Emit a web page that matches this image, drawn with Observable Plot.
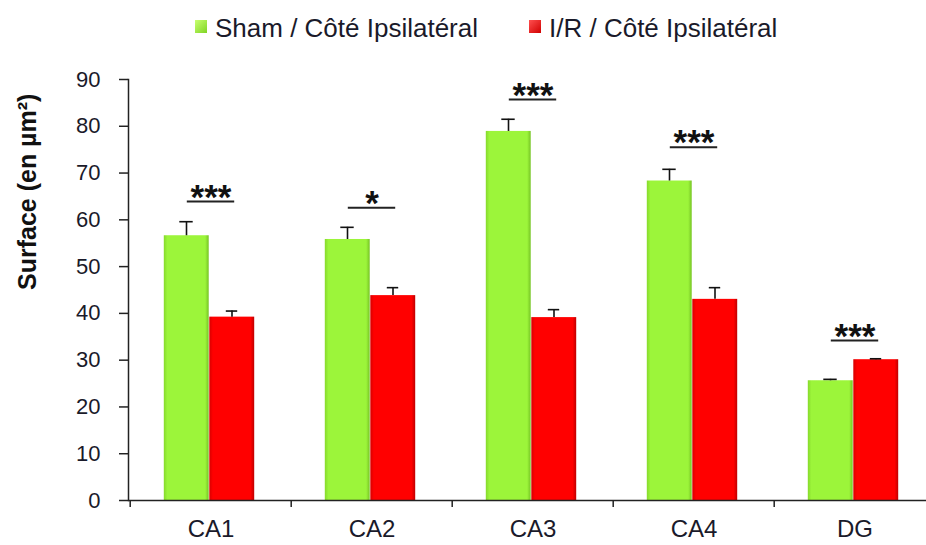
<!DOCTYPE html>
<html>
<head>
<meta charset="utf-8">
<script src="https://cdn.jsdelivr.net/npm/d3@7"></script>
<script src="https://cdn.jsdelivr.net/npm/@observablehq/plot@0.6"></script>
<style>
  body { margin: 0; background: #fff; font-family: Arial, "Liberation Sans", sans-serif; }
  #wrap { position: relative; width: 926px; height: 545px; overflow: hidden; }
  #legend { position: absolute; left: 0; top: 0; width: 926px; height: 60px; }
  .item { position: absolute; top: 15px; font-size: 26px; line-height: 26px; color: #1a1a2a; white-space: nowrap; }
  .sw { position: absolute; top: 5px; width: 12px; height: 13px; }
  #chart { position: absolute; left: 0; top: 60px; }
</style>
</head>
<body>
<div id="wrap">
  <div id="legend"></div>
  <div id="chart"></div>
</div>
<script>
const categories = ["CA1", "CA2", "CA3", "CA4", "DG"];
const seriesNames = ["Sham / Côté Ipsilatéral", "I/R / Côté Ipsilatéral"];
const shamValues = [56.6, 55.8, 78.9, 68.3, 25.6];
const shamErrors = [3.0, 2.6, 2.6, 2.5, 0.3];
const irValues = [39.2, 43.8, 39.1, 43.0, 30.1];
const irErrors = [1.3, 1.7, 1.7, 2.5, 0.2];
const sigLevels = [63.9, 62.6, 85.7, 75.5, 34.2];
const sigLabels = ["***", "*", "***", "***", "***"];
const yTicks = [0, 10, 20, 30, 40, 50, 60, 70, 80, 90];

const sham = categories.map((c, i) => ({cat: c, value: shamValues[i], top: shamValues[i] + shamErrors[i]}));
const ir = categories.map((c, i) => ({cat: c, value: irValues[i], top: irValues[i] + irErrors[i]}));
const sig = categories.map((c, i) => ({cat: c, y: sigLevels[i], label: sigLabels[i]}));

// legend (HTML, above the SVG)
const legend = document.getElementById("legend");
[[195, "#c8ff70", "#7fd424"], [529, "#ff5050", "#d00000"]].forEach(([left, c1, c2], i) => {
  const d = document.createElement("div");
  d.className = "item";
  d.style.left = left + "px";
  d.innerHTML = `<span class="sw" style="left:0;background:linear-gradient(135deg, ${c1}, ${c2})"></span><span style="margin-left:20px">${seriesNames[i]}</span>`;
  legend.appendChild(d);
});

const half = 80.8; // half band width in px
const plot = Plot.plot({
  width: 926,
  height: 485,
  marginLeft: 128,
  marginRight: 0,
  marginTop: 19,
  marginBottom: 45,
  style: {fontFamily: "Arial, 'Liberation Sans', sans-serif", background: "white", color: "#1a1a2a", overflow: "visible"},
  x: {domain: categories, range: [128, 936], padding: 0, axis: null},
  y: {domain: [0, 90], axis: null},
  marks: [
    Plot.barY(sham, {x: "cat", y: "value", fill: "url(#gGreen)", insetLeft: half - 47, insetRight: half + 1.5}),
    Plot.barY(ir, {x: "cat", y: "value", fill: "url(#gRed)", insetLeft: half - 1.5, insetRight: half - 44}),
    Plot.ruleX(sham, {x: "cat", y1: "value", y2: "top", dx: -24.5, stroke: "#111", strokeWidth: 1.6}),
    Plot.ruleX(ir, {x: "cat", y1: "value", y2: "top", dx: 21, stroke: "#111", strokeWidth: 1.6}),
    Plot.tickY(sham, {x: "cat", y: "top", stroke: "#111", strokeWidth: 1.6, insetLeft: half - 24.5 - 7, insetRight: half + 24.5 - 7}),
    Plot.tickY(ir, {x: "cat", y: "top", stroke: "#111", strokeWidth: 1.6, insetLeft: half + 21 - 6, insetRight: half - 21 - 6}),
    Plot.tickY(sig, {x: "cat", y: "y", stroke: "#222", strokeWidth: 2, insetLeft: half - 24, insetRight: half - 24}),
    Plot.text(sig, {x: "cat", y: "y", text: "label", dy: 7, lineAnchor: "bottom", fontSize: 35, fontWeight: "bold", fill: "#111"}),
    Plot.ruleY([0], {stroke: "#222", strokeWidth: 1.5}),
    Plot.frame({anchor: "left", stroke: "#222", strokeWidth: 1.5}),
    Plot.axisY({ticks: yTicks, tickSize: 9, tickPadding: 19, fontSize: 22, label: null, stroke: "#222", strokeWidth: 1.5}),
    Plot.axisX({tickSize: 0, tickPadding: 19, fontSize: 24, label: null}),
    Plot.axisX({tickSize: 7, tickFormat: () => "", dx: -half, label: null, stroke: "#222", strokeWidth: 1.5}),
    Plot.text(["Surface (en µm²)"], {frameAnchor: "left", rotate: -90, dx: -101, dy: 0, fontSize: 25, fontWeight: "bold", fill: "#111"})
  ]
});

// gradients for bevelled bars
const ns = "http://www.w3.org/2000/svg";
const defs = document.createElementNS(ns, "defs");
defs.innerHTML = `
<linearGradient id="gGreen" x1="0" x2="1" y1="0" y2="0">
  <stop offset="0" stop-color="#86d92c"/><stop offset="0.08" stop-color="#9cf53a"/>
  <stop offset="0.92" stop-color="#9cf53a"/><stop offset="1" stop-color="#76c424"/>
</linearGradient>
<linearGradient id="gRed" x1="0" x2="1" y1="0" y2="0">
  <stop offset="0" stop-color="#d80000"/><stop offset="0.08" stop-color="#ff0000"/>
  <stop offset="0.92" stop-color="#ff0000"/><stop offset="1" stop-color="#c00000"/>
</linearGradient>`;
plot.insertBefore(defs, plot.firstChild);
document.getElementById("chart").appendChild(plot);
</script>
</body>
</html>
